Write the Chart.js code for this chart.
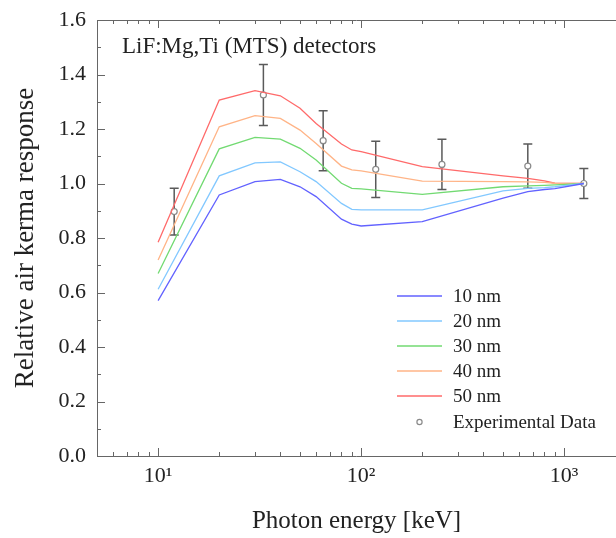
<!DOCTYPE html>
<html>
<head>
<meta charset="utf-8">
<script src="https://cdn.jsdelivr.net/npm/chart.js@4.4.0/dist/chart.umd.min.js"></script>
<style>
  html, body { margin: 0; padding: 0; background: #fff; overflow: hidden; }
  #wrap { width: 616px; height: 538px; }
</style>
</head>
<body>
<div id="wrap"><canvas id="chart" width="616" height="538"></canvas></div>
<script>
// photon energies (keV) where the calculated responses are given
const energies = [10, 20, 30, 40, 50, 60, 80, 90, 100, 200, 500, 662, 800, 900, 1250];

// calculated relative air kerma response per layer thickness
const resp10nm = [0.570, 0.958, 1.007, 1.015, 0.988, 0.952, 0.869, 0.851, 0.844, 0.860, 0.946, 0.970, 0.978, 0.981, 1.000];
const resp20nm = [0.612, 1.028, 1.076, 1.079, 1.043, 1.007, 0.927, 0.905, 0.903, 0.903, 0.973, 0.982, 0.985, 0.988, 1.000];
const resp30nm = [0.670, 1.127, 1.169, 1.163, 1.129, 1.086, 1.001, 0.982, 0.980, 0.960, 0.988, 0.991, 0.993, 0.995, 1.000];
const resp40nm = [0.719, 1.208, 1.249, 1.239, 1.196, 1.147, 1.064, 1.050, 1.046, 1.009, 1.007, 1.006, 1.004, 1.001, 1.000];
const resp50nm = [0.784, 1.306, 1.341, 1.322, 1.276, 1.220, 1.145, 1.123, 1.117, 1.062, 1.028, 1.019, 1.010, 1.001, 1.000];

// measurements with their uncertainties
const expEnergy   = [12, 33, 65, 118, 250, 662, 1250];
const expResponse = [0.897, 1.325, 1.157, 1.052, 1.070, 1.064, 1.000];
const expError    = [0.086, 0.112, 0.110, 0.103, 0.092, 0.081, 0.055];

// axis ticks
const xMajorTicks = [10, 100, 1000];
const xTickLabels = ['10¹', '10²', '10³'];
const yMajorTicks = [0, 0.2, 0.4, 0.6, 0.8, 1.0, 1.2, 1.4, 1.6];
const yTickLabels = ['0.0', '0.2', '0.4', '0.6', '0.8', '1.0', '1.2', '1.4', '1.6'];

const seriesNames  = ['10 nm', '20 nm', '30 nm', '40 nm', '50 nm'];
const seriesValues = [resp10nm, resp20nm, resp30nm, resp40nm, resp50nm];
const seriesColors = ['#6262ff', '#82c8ff', '#72da72', '#ffb487', '#ff6a6a'];

const FONT = "'Liberation Serif', 'DejaVu Serif', serif";
const INK = '#222';
const FRAME = '#666';

// minor log ticks: 2..9 x 10^n inside the visible range
const xAllTicks = [];
[1, 10, 100, 1000].forEach(dec => {
  for (let m = 1; m < 10; m++) {
    const v = m * dec;
    if (v >= 5 && v <= 1800) xAllTicks.push(v);
  }
});
const yAllTicks = [];
for (let i = 0; i <= 16; i++) yAllTicks.push(i / 10);

const isMajor = (list, v) => list.some(m => Math.abs(m - v) < 1e-6);
const labelFor = (list, labels, v) => {
  const i = list.findIndex(m => Math.abs(m - v) < 1e-6);
  return i < 0 ? '' : labels[i];
};

const toPoints = (xs, ys) => xs.map((x, i) => ({ x: x, y: ys[i] }));

const datasets = seriesValues.map((vals, i) => ({
  label: seriesNames[i],
  data: toPoints(energies, vals),
  showLine: true,
  borderColor: seriesColors[i],
  borderWidth: 1.3,
  pointRadius: 0,
  tension: 0
}));
datasets.push({
  label: 'Experimental Data',
  data: toPoints(expEnergy, expResponse),
  showLine: false,
  pointRadius: 3,
  pointBorderWidth: 1.2,
  pointBorderColor: '#8a8a8a',
  pointBackgroundColor: '#fff'
});

// error bars go under the open circles
const errorBars = {
  id: 'errorBars',
  beforeDatasetDraw(chart, args) {
    if (args.index !== datasets.length - 1) return;
    const { ctx, scales: { x, y } } = chart;
    ctx.save();
    ctx.strokeStyle = '#5a5a5a';
    ctx.lineWidth = 1.5;
    expEnergy.forEach((e, i) => {
      const px = x.getPixelForValue(e);
      const top = y.getPixelForValue(expResponse[i] + expError[i]);
      const bot = y.getPixelForValue(expResponse[i] - expError[i]);
      ctx.beginPath();
      ctx.moveTo(px, top); ctx.lineTo(px, bot);
      ctx.moveTo(px - 4.5, top); ctx.lineTo(px + 4.5, top);
      ctx.moveTo(px - 4.5, bot); ctx.lineTo(px + 4.5, bot);
      ctx.stroke();
    });
    ctx.restore();
  }
};

// box frame with inward ticks, annotation and legend
const frame = {
  id: 'frame',
  afterDraw(chart) {
    const { ctx, chartArea: a, scales: { x, y } } = chart;
    ctx.save();
    ctx.strokeStyle = FRAME;
    ctx.lineWidth = 1;
    ctx.beginPath();
    ctx.moveTo(a.left + 0.5, a.top + 0.5);
    ctx.lineTo(a.left + 0.5, a.bottom + 0.5);
    ctx.lineTo(a.right, a.bottom + 0.5);
    ctx.moveTo(a.left, a.top + 0.5);
    ctx.lineTo(a.right, a.top + 0.5);
    x.ticks.forEach(t => {
      const px = Math.round(x.getPixelForValue(t.value)) + 0.5;
      const len = isMajor(xMajorTicks, t.value) ? 8 : 4;
      ctx.moveTo(px, a.bottom); ctx.lineTo(px, a.bottom - len);
      ctx.moveTo(px, a.top); ctx.lineTo(px, a.top + len);
    });
    y.ticks.forEach(t => {
      const py = Math.round(y.getPixelForValue(t.value)) + 0.5;
      const len = isMajor(yMajorTicks, t.value) ? 8 : 4;
      ctx.moveTo(a.left, py); ctx.lineTo(a.left + len, py);
    });
    ctx.stroke();

    ctx.fillStyle = INK;
    ctx.font = '23px ' + FONT;
    ctx.textBaseline = 'alphabetic';
    ctx.textAlign = 'left';
    ctx.fillText('LiF:Mg,Ti (MTS) detectors', 122, 53);

    // legend
    ctx.font = '19px ' + FONT;
    ctx.textBaseline = 'middle';
    const rowY = [296, 321, 346, 371, 396, 422];
    seriesNames.forEach((name, i) => {
      ctx.strokeStyle = seriesColors[i];
      ctx.lineWidth = 1.3;
      ctx.beginPath();
      ctx.moveTo(397, rowY[i]); ctx.lineTo(442, rowY[i]);
      ctx.stroke();
      ctx.fillText(name, 453, rowY[i] + 1);
    });
    ctx.strokeStyle = '#8a8a8a';
    ctx.lineWidth = 1.2;
    ctx.beginPath();
    ctx.arc(419.5, rowY[5], 2.6, 0, Math.PI * 2);
    ctx.stroke();
    ctx.fillText('Experimental Data', 453, rowY[5] + 1);
    ctx.restore();
  }
};

new Chart(document.getElementById('chart'), {
  type: 'scatter',
  data: { datasets: datasets },
  plugins: [errorBars, frame],
  options: {
    responsive: false,
    animation: false,
    layout: { autoPadding: false, padding: { top: 20, right: 0, left: 0, bottom: 0 } },
    plugins: {
      legend: { display: false },
      tooltip: { enabled: false }
    },
    scales: {
      x: {
        type: 'logarithmic',
        min: 5,
        max: 1800,
        afterBuildTicks: scale => { scale.ticks = xAllTicks.map(v => ({ value: v })); },
        afterFit: scale => {
          scale.height = 82;
          scale.paddingLeft = 0;
          scale.paddingRight = 0;
        },
        grid: { display: false, drawTicks: false },
        border: { display: false },
        ticks: {
          autoSkip: false,
          maxRotation: 0,
          minRotation: 0,
          padding: 7,
          color: INK,
          font: { family: FONT, size: 22 },
          callback: v => labelFor(xMajorTicks, xTickLabels, v)
        },
        title: {
          display: true,
          text: 'Photon energy [keV]',
          color: INK,
          font: { family: FONT, size: 25 },
          padding: { top: 0, bottom: 2 }
        }
      },
      y: {
        min: 0,
        max: 1.6,
        afterBuildTicks: scale => { scale.ticks = yAllTicks.map(v => ({ value: v })); },
        afterFit: scale => {
          scale.width = 97;
          scale.paddingTop = 0;
          scale.paddingBottom = 0;
        },
        grid: { display: false, drawTicks: false },
        border: { display: false },
        ticks: {
          autoSkip: false,
          padding: 11,
          color: INK,
          font: { family: FONT, size: 22 },
          callback: v => labelFor(yMajorTicks, yTickLabels, v)
        },
        title: {
          display: true,
          text: 'Relative air kerma response',
          color: INK,
          font: { family: FONT, size: 27 },
          padding: { top: 10, bottom: 0 }
        }
      }
    }
  }
});
</script>
</body>
</html>
